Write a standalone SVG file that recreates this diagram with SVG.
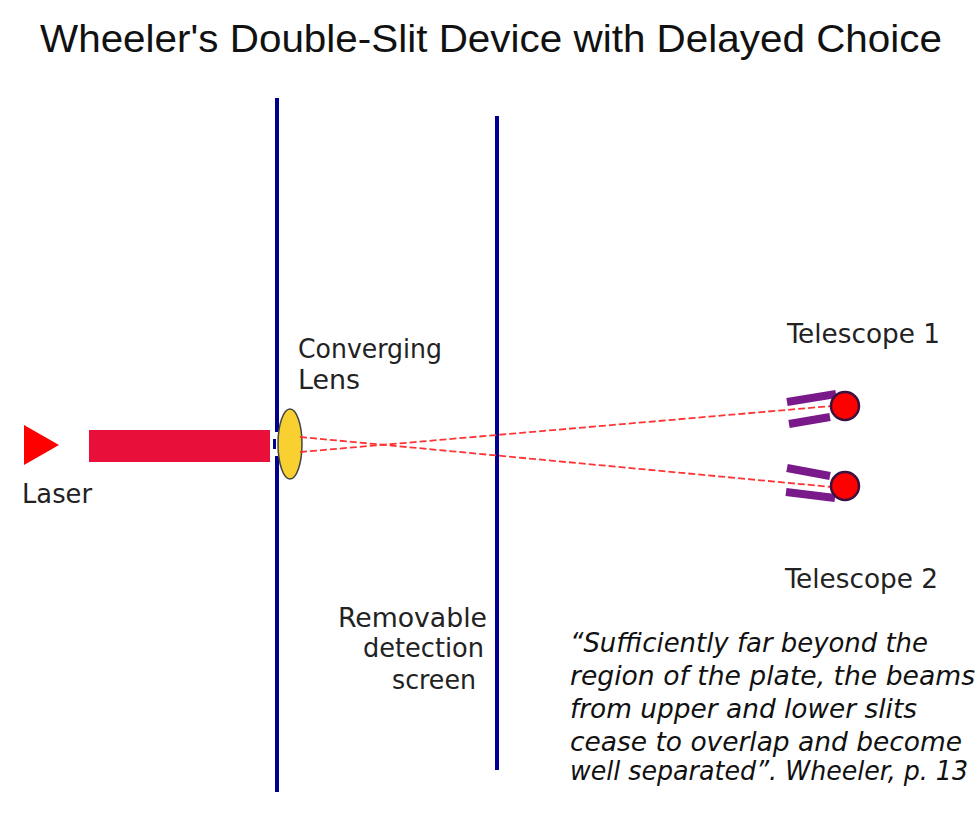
<svg xmlns="http://www.w3.org/2000/svg" width="980" height="840" viewBox="0 0 980 840">
<style>
.lbl{font-family:"DejaVu Sans Condensed","DejaVu Sans",sans-serif;font-stretch:condensed;font-size:27px;fill:#222}
.quote{font-family:"DejaVu Sans Condensed","DejaVu Sans",sans-serif;font-stretch:condensed;font-style:italic;font-size:27px;fill:#111}
.title{font-family:"Liberation Sans",Arial,sans-serif;font-size:39px;fill:#111}
.wall{fill:#00008f}
.ray{stroke:#ff3535;stroke-width:1.8;fill:none;stroke-dasharray:7 3}
.tube{stroke:#7a1a8a;stroke-width:8;stroke-linecap:butt;fill:none}
.eye{fill:#ff0000;stroke:#3a1040;stroke-width:2.5}
</style>
<rect width="980" height="840" fill="#fff"/>
<text class="title" x="40" y="52" textLength="902" lengthAdjust="spacingAndGlyphs">Wheeler's Double-Slit Device with Delayed Choice</text>

<g id="laser">
<polygon points="24,425 59,445 24,465" fill="#ff0000"/>
<text class="lbl" x="22" y="503" textLength="70" lengthAdjust="spacingAndGlyphs">Laser</text>
</g>
<g id="beam">
<rect x="89" y="430" width="181" height="32" fill="#e8103a"/>
</g>
<g id="plate">
<rect class="wall" x="275" y="98" width="4" height="334"/>
<rect class="wall" x="273" y="439" width="3" height="10"/>
<rect class="wall" x="275" y="456" width="4" height="336"/>
</g>
<g id="lens">
<ellipse cx="290" cy="444" rx="12" ry="35" fill="#f8d030" stroke="#444" stroke-width="1.5"/>
<text class="lbl" x="298" y="358" textLength="144" lengthAdjust="spacingAndGlyphs">Converging</text>
<text class="lbl" x="298" y="389" textLength="62" lengthAdjust="spacingAndGlyphs">Lens</text>
</g>
<g id="screen">
<rect class="wall" x="495" y="116" width="4" height="654"/>
<text class="lbl" x="338" y="627" textLength="149" lengthAdjust="spacingAndGlyphs">Removable</text>
<text class="lbl" x="363" y="657" textLength="121" lengthAdjust="spacingAndGlyphs">detection</text>
<text class="lbl" x="392" y="689" textLength="84" lengthAdjust="spacingAndGlyphs">screen</text>
</g>
<g id="connectors">
<line class="ray" x1="300" y1="437" x2="832" y2="487"/>
<line class="ray" x1="300" y1="452" x2="832" y2="406"/>
</g>
<g id="telescope1">
<line class="tube" x1="787" y1="402" x2="836" y2="394"/>
<line class="tube" x1="789" y1="424" x2="830" y2="417"/>
<circle class="eye" cx="845" cy="406" r="14"/>
<text class="lbl" x="787" y="343" textLength="153" lengthAdjust="spacingAndGlyphs">Telescope 1</text>
</g>
<g id="telescope2">
<line class="tube" x1="787" y1="468" x2="830" y2="476"/>
<line class="tube" x1="786" y1="492" x2="835" y2="498"/>
<circle class="eye" cx="845" cy="486" r="14"/>
<text class="lbl" x="785" y="588" textLength="153" lengthAdjust="spacingAndGlyphs">Telescope 2</text>
</g>
<g id="quote">
<text class="quote" x="570" y="652" textLength="358" lengthAdjust="spacingAndGlyphs">“Sufficiently far beyond the</text>
<text class="quote" x="570" y="685" textLength="405" lengthAdjust="spacingAndGlyphs">region of the plate, the beams</text>
<text class="quote" x="570" y="718" textLength="347" lengthAdjust="spacingAndGlyphs">from upper and lower slits</text>
<text class="quote" x="570" y="751" textLength="392" lengthAdjust="spacingAndGlyphs">cease to overlap and become</text>
<text class="quote" x="570" y="780" textLength="398" lengthAdjust="spacingAndGlyphs">well separated”. Wheeler, p. 13</text>
</g>
</svg>
